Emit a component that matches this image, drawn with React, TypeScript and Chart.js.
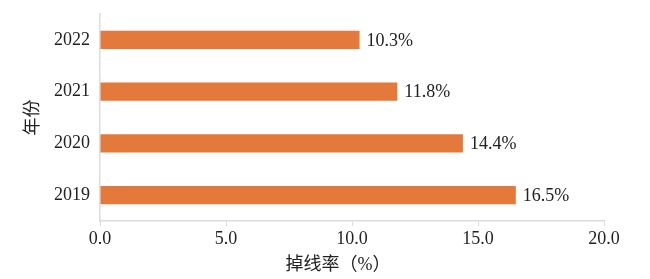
import React, { useEffect, useRef } from "react";
import { Chart, registerables } from "chart.js";

Chart.register(...registerables);

const years = ["2022", "2021", "2020", "2019"];
const dropRates = [10.3, 11.8, 14.4, 16.5];
const xTickValues = [0, 5, 10, 15, 20];
const xTitle = "掉线率（%）";
const yTitle = "年份";

const FONT = "'Liberation Serif', 'Noto Sans CJK SC', serif";

const valueLabels = {
  id: "valueLabels",
  afterDatasetsDraw(chart: any) {
    const ctx = chart.ctx;
    const meta = chart.getDatasetMeta(0);
    ctx.save();
    ctx.font = `18px ${FONT}`;
    ctx.fillStyle = "#222";
    ctx.textAlign = "left";
    ctx.textBaseline = "middle";
    meta.data.forEach((bar: any, i: number) => {
      ctx.fillText(dropRates[i].toFixed(1) + "%", bar.x + 7, bar.y + 1);
    });
    ctx.restore();
  },
};

const xTitlePlugin = {
  id: "xTitlePlugin",
  afterDraw(chart: any) {
    const ctx = chart.ctx;
    const area = chart.chartArea;
    ctx.save();
    ctx.font = `18px ${FONT}`;
    ctx.fillStyle = "#222";
    ctx.textAlign = "center";
    ctx.textBaseline = "middle";
    ctx.fillText(xTitle, (area.left + area.right) / 2 - 14, chart.height - 14);
    ctx.restore();
  },
};

export default function App() {
  const ref = useRef<HTMLCanvasElement>(null);
  useEffect(() => {
    if (!ref.current) return;
    const chart = new Chart(ref.current, {
      type: "bar",
      data: {
        labels: years,
        datasets: [
          {
            data: dropRates,
            backgroundColor: "#E3793A",
            borderWidth: 0,
            barPercentage: 0.35,
            categoryPercentage: 1,
          },
        ],
      },
      options: {
        indexAxis: "y",
        animation: false,
        responsive: false,
        maintainAspectRatio: false,
        layout: { padding: { top: 14, right: 46, left: 0, bottom: 0 } },
        plugins: { legend: { display: false }, tooltip: { enabled: false } },
        scales: {
          x: {
            min: 0,
            max: 20,
            afterFit(scale: any) {
              scale.height = 58;
              scale.paddingLeft = 0;
              scale.paddingRight = 0;
            },
            afterBuildTicks(scale: any) {
              scale.ticks = xTickValues.map((v) => ({ value: v }));
            },
            ticks: {
              font: { family: FONT, size: 18 },
              color: "#222",
              padding: 2,
              callback: (v: any) => Number(v).toFixed(1),
            },
            grid: {
              display: true,
              drawOnChartArea: false,
              drawTicks: true,
              tickLength: 5,
              color: "#dcdcdc",
            },
            border: { display: true, color: "#dcdcdc", width: 1.5 },
            title: { display: false },
          },
          y: {
            afterFit(scale: any) {
              scale.width = 100;
              scale.paddingTop = 0;
              scale.paddingBottom = 0;
            },
            ticks: {
              font: { family: FONT, size: 18 },
              color: "#222",
              padding: 10,
            },
            grid: { display: false, drawTicks: false },
            border: { display: true, color: "#dcdcdc", width: 1.5 },
            title: {
              display: true,
              text: yTitle,
              font: { family: FONT, size: 18 },
              color: "#222",
              padding: { top: 22, bottom: 0 },
            },
          },
        },
      },
      plugins: [valueLabels, xTitlePlugin],
    });
    return () => chart.destroy();
  }, []);
  return (
    <div style={{ position: "absolute", left: 0, top: 0, width: 650, height: 279, background: "#fff" }}>
      <canvas ref={ref} width={650} height={279} style={{ width: 650, height: 279 }} />
    </div>
  );
}
